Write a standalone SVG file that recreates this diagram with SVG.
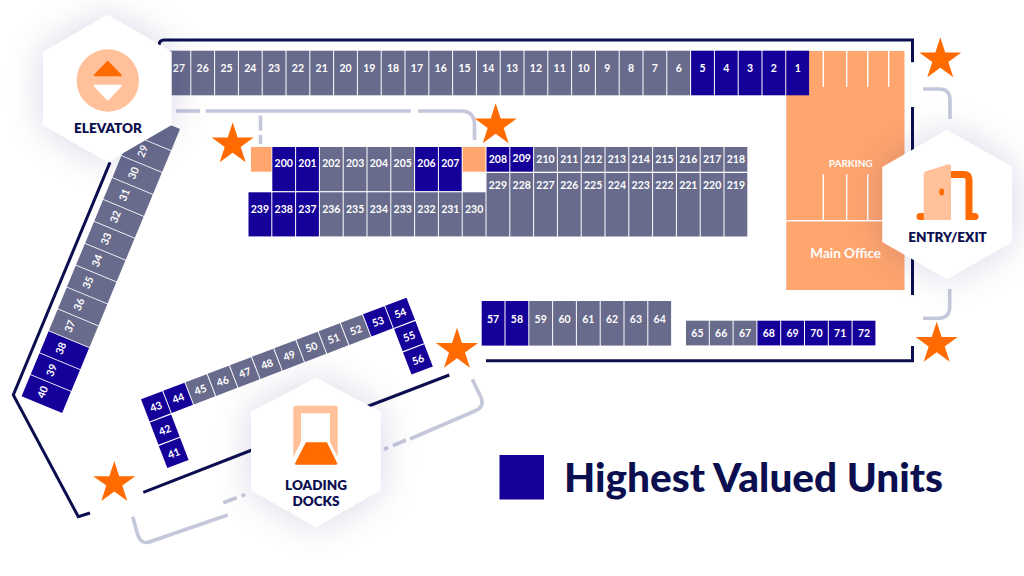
<svg xmlns="http://www.w3.org/2000/svg" xmlns:xlink="http://www.w3.org/1999/xlink" width="1024" height="576" viewBox="0 0 1024 576">
<style>
text{font-family:Lato,"Noto Sans","Liberation Sans",sans-serif;font-weight:700;text-anchor:middle;fill:#fff;font-size:10.5px}
.b{fill:#16009a}.g{fill:#686b8c}
.wall{fill:none;stroke:#0b0f4f;stroke-width:3}
.conn{fill:none;stroke:#c5c7db;stroke-width:3.6}
.hex{fill:#fff;filter:url(#sh)}
.hl{font-size:13.5px;font-weight:800;fill:#0b0f4f}
.or{fill:#ff6b00}.pe{fill:#ffc09a}.pk{fill:#ffa56e}
.pl{stroke:#fff;stroke-width:1.4;fill:none}
</style>
<defs>
<filter id="sh" x="-60%" y="-60%" width="220%" height="220%"><feDropShadow dx="0" dy="0" stdDeviation="18" flood-color="#23235f" flood-opacity="0.16"/></filter>
<polygon id="star" class="or" points="0,-22.1 4.96,-6.83 21.02,-6.83 8.03,2.61 12.99,17.88 0,8.44 -12.99,17.88 -8.03,2.61 -21.02,-6.83 -4.96,-6.83"/>
<rect id="t" width="22.8" height="44.6"/>
<rect id="m" width="22.8" height="44.1"/>
<rect id="s" width="22.8" height="24.7"/>
<rect id="l" width="22.8" height="63.5"/>
<rect id="d" width="22.9" height="43.9"/>
<rect id="q" width="22.8" height="23.8"/>
</defs>
<rect width="1024" height="576" fill="#fff"/>

<g id="parking">
<rect class="pk" x="786.3" y="51" width="118.2" height="239"/>
<path class="pl" d="M823.3 51V87M846.7 51V87M867.7 51V87M888.7 51V87M823.3 174.3V220.7M846.7 174.3V220.7M867.7 174.3V220.7M786.3 220.7H904.5"/>
<text x="850.7" y="167.3" style="font-size:10px">PARKING</text>
<text x="845.7" y="258.3" style="font-size:13.5px">Main Office</text>
</g>

<g id="connectors">
<g class="wall">
<path d="M159 45Q159.500 40 164 40H912.500V62.300"/>
<path d="M912.500 107V152"/>
<path d="M912.500 258V295"/>
<path d="M912.500 346V360.700H486"/>
<path d="M449.300 375L366 407"/>
<path d="M252 450L143.300 492.300"/>
<path d="M110 162.300L13.300 395L78.300 516.700L90 513"/>
</g>
<g class="conn">
<path d="M176 111H200"/>
<path d="M205.700 111H410.700"/>
<path d="M418 111H461Q474.500 111 474.500 125V140"/>
<path d="M260.500 115.700V130.700"/>
<path d="M260.500 135V144"/>
<path d="M923 89H939Q950 89 950 100V119"/>
<path d="M949.700 289V307Q949.700 318.300 938 318.300H923"/>
<path d="M472.300 379.300L480.800 397Q485 406 476 410.500L410 439"/>
<path d="M406 440L393 445.700"/>
<path d="M388 447.300L384 449.300"/>
<path d="M132.700 516.700L137.500 534Q141 546 152 541L227.700 515"/>
<path d="M223.300 502.700L236.700 497.700"/>
<path d="M241.700 496L245 494.300"/>
</g>
</g>

<g id="unit-1" class="b" transform="translate(786.3,50.7)"><use href="#t"/><text x="11.4" y="21.3">1</text></g>
<g id="unit-2" class="b" transform="translate(762.5,50.7)"><use href="#t"/><text x="11.4" y="21.3">2</text></g>
<g id="unit-3" class="b" transform="translate(738.7,50.7)"><use href="#t"/><text x="11.4" y="21.3">3</text></g>
<g id="unit-4" class="b" transform="translate(714.9,50.7)"><use href="#t"/><text x="11.4" y="21.3">4</text></g>
<g id="unit-5" class="b" transform="translate(691.1,50.7)"><use href="#t"/><text x="11.4" y="21.3">5</text></g>
<g id="unit-6" class="g" transform="translate(667.3,50.7)"><use href="#t"/><text x="11.4" y="21.3">6</text></g>
<g id="unit-7" class="g" transform="translate(643.5,50.7)"><use href="#t"/><text x="11.4" y="21.3">7</text></g>
<g id="unit-8" class="g" transform="translate(619.7,50.7)"><use href="#t"/><text x="11.4" y="21.3">8</text></g>
<g id="unit-9" class="g" transform="translate(595.9,50.7)"><use href="#t"/><text x="11.4" y="21.3">9</text></g>
<g id="unit-10" class="g" transform="translate(572.1,50.7)"><use href="#t"/><text x="11.4" y="21.3">10</text></g>
<g id="unit-11" class="g" transform="translate(548.3,50.7)"><use href="#t"/><text x="11.4" y="21.3">11</text></g>
<g id="unit-12" class="g" transform="translate(524.5,50.7)"><use href="#t"/><text x="11.4" y="21.3">12</text></g>
<g id="unit-13" class="g" transform="translate(500.7,50.7)"><use href="#t"/><text x="11.4" y="21.3">13</text></g>
<g id="unit-14" class="g" transform="translate(476.9,50.7)"><use href="#t"/><text x="11.4" y="21.3">14</text></g>
<g id="unit-15" class="g" transform="translate(453.1,50.7)"><use href="#t"/><text x="11.4" y="21.3">15</text></g>
<g id="unit-16" class="g" transform="translate(429.3,50.7)"><use href="#t"/><text x="11.4" y="21.3">16</text></g>
<g id="unit-17" class="g" transform="translate(405.5,50.7)"><use href="#t"/><text x="11.4" y="21.3">17</text></g>
<g id="unit-18" class="g" transform="translate(381.7,50.7)"><use href="#t"/><text x="11.4" y="21.3">18</text></g>
<g id="unit-19" class="g" transform="translate(357.9,50.7)"><use href="#t"/><text x="11.4" y="21.3">19</text></g>
<g id="unit-20" class="g" transform="translate(334.1,50.7)"><use href="#t"/><text x="11.4" y="21.3">20</text></g>
<g id="unit-21" class="g" transform="translate(310.3,50.7)"><use href="#t"/><text x="11.4" y="21.3">21</text></g>
<g id="unit-22" class="g" transform="translate(286.5,50.7)"><use href="#t"/><text x="11.4" y="21.3">22</text></g>
<g id="unit-23" class="g" transform="translate(262.7,50.7)"><use href="#t"/><text x="11.4" y="21.3">23</text></g>
<g id="unit-24" class="g" transform="translate(238.9,50.7)"><use href="#t"/><text x="11.4" y="21.3">24</text></g>
<g id="unit-25" class="g" transform="translate(215.1,50.7)"><use href="#t"/><text x="11.4" y="21.3">25</text></g>
<g id="unit-26" class="g" transform="translate(191.3,50.7)"><use href="#t"/><text x="11.4" y="21.3">26</text></g>
<g id="unit-27" class="g" transform="translate(167.5,50.7)"><use href="#t"/><text x="11.4" y="21.3">27</text></g>

<g id="orange-a" class="pk"><rect x="251" y="147" width="20.500" height="24.700"/></g>
<g id="orange-b" class="pk"><rect x="462.700" y="147" width="22.800" height="24.700"/></g>

<g id="unit-200" class="b" transform="translate(272.3,147)"><use href="#m"/><text x="11.4" y="20">200</text></g>
<g id="unit-201" class="b" transform="translate(296.1,147)"><use href="#m"/><text x="11.4" y="20">201</text></g>
<g id="unit-202" class="g" transform="translate(319.9,147)"><use href="#m"/><text x="11.4" y="20">202</text></g>
<g id="unit-203" class="g" transform="translate(343.7,147)"><use href="#m"/><text x="11.4" y="20">203</text></g>
<g id="unit-204" class="g" transform="translate(367.5,147)"><use href="#m"/><text x="11.4" y="20">204</text></g>
<g id="unit-205" class="g" transform="translate(391.3,147)"><use href="#m"/><text x="11.4" y="20">205</text></g>
<g id="unit-206" class="b" transform="translate(415.1,147)"><use href="#m"/><text x="11.4" y="20">206</text></g>
<g id="unit-207" class="b" transform="translate(438.9,147)"><use href="#m"/><text x="11.4" y="20">207</text></g>
<g id="unit-208" class="b" transform="translate(486.5,147)"><use href="#s"/><text x="11.4" y="16">208</text></g>
<g id="unit-209" class="b" transform="translate(510.3,147)"><use href="#s"/><text x="11.4" y="15">209</text></g>
<g id="unit-210" class="g" transform="translate(534.1,147)"><use href="#s"/><text x="11.4" y="15.500">210</text></g>
<g id="unit-211" class="g" transform="translate(557.9,147)"><use href="#s"/><text x="11.4" y="15.500">211</text></g>
<g id="unit-212" class="g" transform="translate(581.7,147)"><use href="#s"/><text x="11.4" y="15.500">212</text></g>
<g id="unit-213" class="g" transform="translate(605.5,147)"><use href="#s"/><text x="11.4" y="15.500">213</text></g>
<g id="unit-214" class="g" transform="translate(629.3,147)"><use href="#s"/><text x="11.4" y="15.500">214</text></g>
<g id="unit-215" class="g" transform="translate(653.1,147)"><use href="#s"/><text x="11.4" y="15.500">215</text></g>
<g id="unit-216" class="g" transform="translate(676.9,147)"><use href="#s"/><text x="11.4" y="15.500">216</text></g>
<g id="unit-217" class="g" transform="translate(700.7,147)"><use href="#s"/><text x="11.4" y="15.500">217</text></g>
<g id="unit-218" class="g" transform="translate(724.5,147)"><use href="#s"/><text x="11.4" y="15.500">218</text></g>

<g id="unit-229" class="g" transform="translate(486.5,173)"><use href="#l"/><text x="11.4" y="16">229</text></g>
<g id="unit-228" class="g" transform="translate(510.3,173)"><use href="#l"/><text x="11.4" y="16">228</text></g>
<g id="unit-227" class="g" transform="translate(534.1,173)"><use href="#l"/><text x="11.4" y="16">227</text></g>
<g id="unit-226" class="g" transform="translate(557.9,173)"><use href="#l"/><text x="11.4" y="16">226</text></g>
<g id="unit-225" class="g" transform="translate(581.7,173)"><use href="#l"/><text x="11.4" y="16">225</text></g>
<g id="unit-224" class="g" transform="translate(605.5,173)"><use href="#l"/><text x="11.4" y="16">224</text></g>
<g id="unit-223" class="g" transform="translate(629.3,173)"><use href="#l"/><text x="11.4" y="16">223</text></g>
<g id="unit-222" class="g" transform="translate(653.1,173)"><use href="#l"/><text x="11.4" y="16">222</text></g>
<g id="unit-221" class="g" transform="translate(676.9,173)"><use href="#l"/><text x="11.4" y="16">221</text></g>
<g id="unit-220" class="g" transform="translate(700.7,173)"><use href="#l"/><text x="11.4" y="16">220</text></g>
<g id="unit-219" class="g" transform="translate(724.5,173)"><use href="#l"/><text x="11.4" y="16">219</text></g>

<g id="unit-239" class="b" transform="translate(248.5,192.3)"><use href="#m"/><text x="11.4" y="21.200">239</text></g>
<g id="unit-238" class="b" transform="translate(272.3,192.3)"><use href="#m"/><text x="11.4" y="21.200">238</text></g>
<g id="unit-237" class="b" transform="translate(296.1,192.3)"><use href="#m"/><text x="11.4" y="21.200">237</text></g>
<g id="unit-236" class="g" transform="translate(319.9,192.3)"><use href="#m"/><text x="11.4" y="21.200">236</text></g>
<g id="unit-235" class="g" transform="translate(343.7,192.3)"><use href="#m"/><text x="11.4" y="21.200">235</text></g>
<g id="unit-234" class="g" transform="translate(367.5,192.3)"><use href="#m"/><text x="11.4" y="21.200">234</text></g>
<g id="unit-233" class="g" transform="translate(391.3,192.3)"><use href="#m"/><text x="11.4" y="21.200">233</text></g>
<g id="unit-232" class="g" transform="translate(415.1,192.3)"><use href="#m"/><text x="11.4" y="21.200">232</text></g>
<g id="unit-231" class="g" transform="translate(438.9,192.3)"><use href="#m"/><text x="11.4" y="21.200">231</text></g>
<g id="unit-230" class="g" transform="translate(462.7,192.3)"><use href="#m"/><text x="11.4" y="21.200">230</text></g>

<g id="unit-57" class="b" transform="translate(481.7,301)"><use href="#t"/><text x="11.4" y="21.500">57</text></g>
<g id="unit-58" class="b" transform="translate(505.5,301)"><use href="#t"/><text x="11.4" y="21.500">58</text></g>
<g id="unit-59" class="g" transform="translate(529.3,301)"><use href="#t"/><text x="11.4" y="21.500">59</text></g>
<g id="unit-60" class="g" transform="translate(553.1,301)"><use href="#t"/><text x="11.4" y="21.500">60</text></g>
<g id="unit-61" class="g" transform="translate(576.9,301)"><use href="#t"/><text x="11.4" y="21.500">61</text></g>
<g id="unit-62" class="g" transform="translate(600.7,301)"><use href="#t"/><text x="11.4" y="21.500">62</text></g>
<g id="unit-63" class="g" transform="translate(624.5,301)"><use href="#t"/><text x="11.4" y="21.500">63</text></g>
<g id="unit-64" class="g" transform="translate(648.3,301)"><use href="#t"/><text x="11.4" y="21.500">64</text></g>

<g id="unit-65" class="g" transform="translate(686,320.7)"><use href="#s"/><text x="11.4" y="16.300">65</text></g>
<g id="unit-66" class="g" transform="translate(709.8,320.7)"><use href="#s"/><text x="11.4" y="16.300">66</text></g>
<g id="unit-67" class="g" transform="translate(733.6,320.7)"><use href="#s"/><text x="11.4" y="16.300">67</text></g>
<g id="unit-68" class="b" transform="translate(757.4,320.7)"><use href="#s"/><text x="11.4" y="16.300">68</text></g>
<g id="unit-69" class="b" transform="translate(781.2,320.7)"><use href="#s"/><text x="11.4" y="16.300">69</text></g>
<g id="unit-70" class="b" transform="translate(805,320.7)"><use href="#s"/><text x="11.4" y="16.300">70</text></g>
<g id="unit-71" class="b" transform="translate(828.8,320.7)"><use href="#s"/><text x="11.4" y="16.300">71</text></g>
<g id="unit-72" class="b" transform="translate(852.6,320.7)"><use href="#s"/><text x="11.4" y="16.300">72</text></g>

<g id="unit-40" class="b" transform="translate(21.6,396.2) rotate(-67.5)"><use href="#d"/><text x="11.9" y="21.500">40</text></g>
<g id="unit-39" class="b" transform="translate(30.7,374.3) rotate(-67.5)"><use href="#d"/><text x="11.9" y="21.500">39</text></g>
<g id="unit-38" class="b" transform="translate(39.8,352.4) rotate(-67.5)"><use href="#d"/><text x="11.9" y="21.500">38</text></g>
<g id="unit-37" class="g" transform="translate(48.9,330.5) rotate(-67.5)"><use href="#d"/><text x="11.9" y="21.500">37</text></g>
<g id="unit-36" class="g" transform="translate(58,308.6) rotate(-67.5)"><use href="#d"/><text x="11.9" y="21.500">36</text></g>
<g id="unit-35" class="g" transform="translate(67,286.7) rotate(-67.5)"><use href="#d"/><text x="11.9" y="21.500">35</text></g>
<g id="unit-34" class="g" transform="translate(76.1,264.8) rotate(-67.5)"><use href="#d"/><text x="11.9" y="21.500">34</text></g>
<g id="unit-33" class="g" transform="translate(85.2,242.9) rotate(-67.5)"><use href="#d"/><text x="11.9" y="21.500">33</text></g>
<g id="unit-32" class="g" transform="translate(94.3,221) rotate(-67.5)"><use href="#d"/><text x="11.9" y="21.500">32</text></g>
<g id="unit-31" class="g" transform="translate(103.4,199.1) rotate(-67.5)"><use href="#d"/><text x="11.9" y="21.500">31</text></g>
<g id="unit-30" class="g" transform="translate(112.5,177.2) rotate(-67.5)"><use href="#d"/><text x="11.9" y="21.500">30</text></g>
<g id="unit-29" class="g" transform="translate(121.6,155.3) rotate(-67.5)"><use href="#d"/><text x="11.9" y="21.500">29</text></g>
<g id="unit-28" class="g" transform="translate(130.7,133.4) rotate(-67.5)"><use href="#d"/></g>

<g id="unit-41" class="b" transform="translate(158.8,445.9) rotate(-21)"><use href="#q"/><text x="11.4" y="16">41</text></g>
<g id="unit-42" class="b" transform="translate(149.9,422.6) rotate(-21)"><use href="#q"/><text x="11.4" y="16">42</text></g>
<g id="unit-43" class="b" transform="translate(141,399.3) rotate(-21)"><use href="#q"/><text x="11.4" y="16">43</text></g>
<g id="unit-44" class="b" transform="translate(163.2,390.8) rotate(-21)"><use href="#q"/><text x="11.4" y="16">44</text></g>
<g id="unit-45" class="g" transform="translate(185.4,382.3) rotate(-21)"><use href="#q"/><text x="11.4" y="16">45</text></g>
<g id="unit-46" class="g" transform="translate(207.6,373.8) rotate(-21)"><use href="#q"/><text x="11.4" y="16">46</text></g>
<g id="unit-47" class="g" transform="translate(229.8,365.3) rotate(-21)"><use href="#q"/><text x="11.4" y="16">47</text></g>
<g id="unit-48" class="g" transform="translate(252,356.8) rotate(-21)"><use href="#q"/><text x="11.4" y="16">48</text></g>
<g id="unit-49" class="g" transform="translate(274.2,348.3) rotate(-21)"><use href="#q"/><text x="11.4" y="16">49</text></g>
<g id="unit-50" class="g" transform="translate(296.4,339.8) rotate(-21)"><use href="#q"/><text x="11.4" y="16">50</text></g>
<g id="unit-51" class="g" transform="translate(318.6,331.3) rotate(-21)"><use href="#q"/><text x="11.4" y="16">51</text></g>
<g id="unit-52" class="g" transform="translate(340.8,322.8) rotate(-21)"><use href="#q"/><text x="11.4" y="16">52</text></g>
<g id="unit-53" class="b" transform="translate(363,314.3) rotate(-21)"><use href="#q"/><text x="11.4" y="16">53</text></g>
<g id="unit-54" class="b" transform="translate(385.2,305.8) rotate(-21)"><use href="#q"/><text x="11.4" y="16">54</text></g>
<g id="unit-55" class="b" transform="translate(394.1,329.1) rotate(-21)"><use href="#q"/><text x="11.4" y="16">55</text></g>
<g id="unit-56" class="b" transform="translate(403,352.4) rotate(-21)"><use href="#q"/><text x="11.4" y="16">56</text></g>

<g id="elevator">
<polygon class="hex" points="107.700,15 171.700,52 171.700,125 107.700,162 43,125 43,52"/>
<circle class="pe" cx="107.800" cy="80.500" r="31.200"/>
<polygon class="or" stroke="#ff6b00" stroke-width="2" stroke-linejoin="round" points="107.700,62 120.700,75.300 94.800,75.300"/>
<polygon fill="#fff" stroke="#fff" stroke-width="2" stroke-linejoin="round" points="94.800,85.700 120.700,85.700 107.700,99.500"/>
<text class="hl" x="108" y="132.500">ELEVATOR</text>
</g>

<g id="entry-exit">
<polygon class="hex" points="947,130 1012,167 1012,242 947,279 882.300,242 882.300,167"/>
<path d="M951 174.500H964Q969 174.500 969 180V216.500H975" fill="none" stroke="#ff6b00" stroke-width="7" stroke-linecap="round"/>
<path d="M920 216.500H926" fill="none" stroke="#ff6b00" stroke-width="7" stroke-linecap="round"/>
<path class="pe" d="M923.700 174Q923.700 171.700 926 171.300L948.500 164.200Q951 164 951 167V220H923.700Z"/>
<ellipse class="or" cx="941.700" cy="192" rx="2.500" ry="3.400"/>
<text class="hl" x="947.500" y="241.700">ENTRY/EXIT</text>
</g>

<g id="loading-docks">
<polygon class="hex" points="316,378 380.500,412 380.500,490 316,527 251,490 251,412"/>
<path class="pe" d="M293.300 457V408.500Q293.300 405.700 296 405.700H335Q337.700 405.700 337.700 408.500V457L330 442V413.300H301V442Z"/>
<polygon class="or" stroke="#ff6b00" stroke-width="2" stroke-linejoin="round" points="306.500,443.300 326.300,443.300 336.300,463.700 296,463.700"/>
<text class="hl" x="316" y="490">LOADING</text>
<text class="hl" x="316" y="505.700">DOCKS</text>
</g>

<g id="stars">
<use href="#star" x="940.300" y="59.400"/>
<use href="#star" x="495.700" y="125.400"/>
<use href="#star" x="232.700" y="144.400"/>
<use href="#star" x="936.700" y="343.800"/>
<use href="#star" x="457" y="349.800"/>
<use href="#star" x="114.300" y="483"/>
</g>

<g id="legend">
<rect class="b" x="499.500" y="455" width="44.500" height="44.500"/>
<text x="564" y="492" style="font-size:40.500px;font-weight:900;fill:#0b0f4f;text-anchor:start">Highest Valued Units</text>
</g>
</svg>
